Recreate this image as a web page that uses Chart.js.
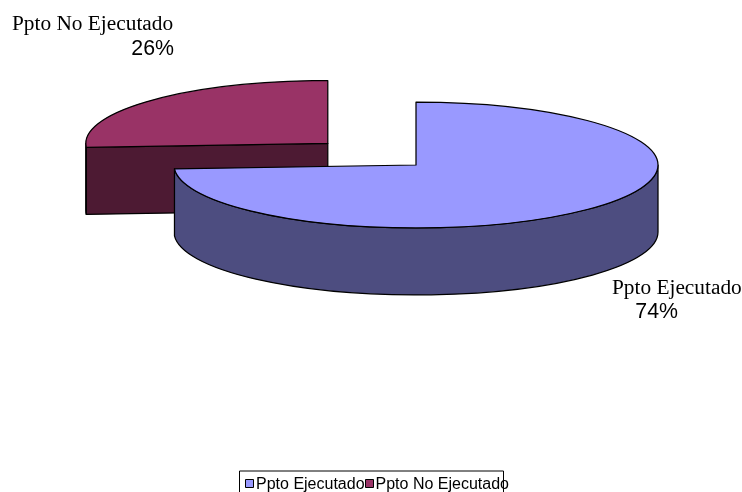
<!DOCTYPE html>
<html>
<head>
<meta charset="utf-8">
<title>Ppto</title>
<script src="https://cdn.jsdelivr.net/npm/chart.js@4"></script>
<style>
  html, body { margin: 0; background: #fff; }
  canvas { display: block; }
</style>
</head>
<body>
<canvas id="pieChart" width="742" height="492"></canvas>
<script>
const categories = ['Ppto Ejecutado', 'Ppto No Ejecutado'];
const shares = [74, 26];

const topColors = ['#9999ff', '#993366'];
const wallColors = ['#4d4d80', '#4d1a33'];
const explode = [0, 484]; // arc element moves by offset / 4

// where the flattened pie sits on the page
const pieX = 416;
const pieY = 165;
const pieRadius = 242;
const tilt = 0.26;
const depth = 67;
const lineW = 1.25;

// label anchors (name and percent)
const labelSpots = [
  { nameX: 612, nameY: 294, pctX: 678, pctY: 318 },
  { nameX: 12, nameY: 30, pctX: 174, pctY: 55 }
];

// ellipse centre of one slice on the page
function sliceCentre(arc) {
  const mid = (arc.startAngle + arc.endAngle) / 2;
  const move = (arc.options.offset || 0) / 4;
  return {
    x: pieX + Math.cos(mid) * move,
    y: pieY + Math.sin(mid) * move * tilt
  };
}

function rim(c, r, a) {
  return { x: c.x + Math.cos(a) * r, y: c.y + Math.sin(a) * r * tilt };
}

// fill + outline of one extruded wall piece
function paintWall(ctx, color, trace) {
  ctx.beginPath();
  trace();
  ctx.closePath();
  ctx.fillStyle = color;
  ctx.fill();
  ctx.lineWidth = lineW;
  ctx.lineJoin = 'round';
  ctx.strokeStyle = '#000';
  ctx.stroke();
}

const pie3d = {
  id: 'pie3d',
  beforeDatasetDraw(chart) {
    const ctx = chart.ctx;
    const arcs = chart.getDatasetMeta(0).data;

    // walls first, back slice before the front one
    for (let i = arcs.length - 1; i >= 0; i--) {
      const arc = arcs[i];
      const c = sliceCentre(arc);
      const r = arc.outerRadius;
      const start = arc.startAngle;
      const end = arc.endAngle;
      const color = wallColors[i];

      // straight cut faces
      if (Math.cos(start) < -1e-6) {
        const p = rim(c, r, start);
        paintWall(ctx, color, () => {
          ctx.moveTo(c.x, c.y);
          ctx.lineTo(p.x, p.y);
          ctx.lineTo(p.x, p.y + depth);
          ctx.lineTo(c.x, c.y + depth);
        });
      }
      if (Math.cos(end) > 1e-6) {
        const p = rim(c, r, end);
        paintWall(ctx, color, () => {
          ctx.moveTo(c.x, c.y);
          ctx.lineTo(p.x, p.y);
          ctx.lineTo(p.x, p.y + depth);
          ctx.lineTo(c.x, c.y + depth);
        });
      }

      // curved outer wall, only the front half shows
      const from = Math.max(start, 0);
      const to = Math.min(end, Math.PI);
      if (to > from) {
        paintWall(ctx, color, () => {
          ctx.ellipse(c.x, c.y, r, r * tilt, 0, from, to);
          ctx.ellipse(c.x, c.y + depth, r, r * tilt, 0, to, from, true);
        });
      }
    }

    // flatten the library's own arcs
    const first = arcs[0];
    ctx.save();
    ctx.translate(pieX, pieY);
    ctx.scale(1, tilt);
    ctx.translate(-first.x, -first.y);
  },
  afterDatasetDraw(chart) {
    const ctx = chart.ctx;
    ctx.restore();

    // outlines of the top faces, drawn unflattened so the line stays even
    chart.getDatasetMeta(0).data.forEach(arc => {
      const c = sliceCentre(arc);
      ctx.beginPath();
      ctx.moveTo(c.x, c.y);
      ctx.ellipse(c.x, c.y, arc.outerRadius, arc.outerRadius * tilt, 0, arc.startAngle, arc.endAngle);
      ctx.closePath();
      ctx.lineWidth = lineW;
      ctx.lineJoin = 'round';
      ctx.strokeStyle = '#000';
      ctx.stroke();
    });
  },
  afterDraw(chart) {
    const ctx = chart.ctx;

    // data labels
    ctx.save();
    ctx.fillStyle = '#000';
    ctx.textBaseline = 'alphabetic';
    categories.forEach((name, i) => {
      const spot = labelSpots[i];
      ctx.font = '21.33px "Liberation Serif"';
      ctx.textAlign = 'left';
      ctx.fillText(name, spot.nameX, spot.nameY);
      ctx.font = '21.33px "Liberation Sans"';
      ctx.textAlign = 'right';
      ctx.fillText(shares[i] + '%', spot.pctX, spot.pctY);
    });
    ctx.restore();

    // legend markers sit tighter to the text than the library allows
    const boxes = chart.legend.legendHitBoxes;
    ctx.save();
    ctx.lineWidth = 1;
    ctx.strokeStyle = '#000';
    boxes.forEach((box, i) => {
      const y = Math.round(box.top + box.height / 2 - 6.5) + 0.5;
      ctx.fillStyle = topColors[i];
      ctx.fillRect(Math.round(box.left) + 0.5, y, 8, 8);
      ctx.strokeRect(Math.round(box.left) + 0.5, y, 8, 8);
    });

    // legend frame, open at the page bottom like the original
    const left = 239.5;
    const right = 503.5;
    const top = 471;
    ctx.beginPath();
    ctx.moveTo(left, chart.height);
    ctx.lineTo(left, top);
    ctx.lineTo(right, top);
    ctx.lineTo(right, chart.height);
    ctx.stroke();
    ctx.restore();
  }
};

new Chart(document.getElementById('pieChart'), {
  type: 'pie',
  data: {
    labels: categories,
    datasets: [{
      data: shares,
      backgroundColor: topColors,
      borderWidth: 0,
      offset: explode,
      clip: false
    }]
  },
  options: {
    responsive: false,
    animation: false,
    radius: pieRadius,
    cutout: '0%',
    layout: { padding: { left: 12, bottom: -11 } },
    plugins: {
      tooltip: { enabled: false },
      legend: {
        position: 'bottom',
        labels: {
          color: '#000',
          boxWidth: 3,
          boxHeight: 8,
          padding: 0,
          font: { family: '"Liberation Sans"', size: 16 },
          generateLabels(chart) {
            return categories.map((text, i) => ({
              text,
              index: i,
              fillStyle: 'rgba(0,0,0,0)',
              strokeStyle: 'rgba(0,0,0,0)',
              lineWidth: 0,
              fontColor: '#000'
            }));
          }
        }
      }
    }
  },
  plugins: [pie3d]
});
</script>
</body>
</html>
